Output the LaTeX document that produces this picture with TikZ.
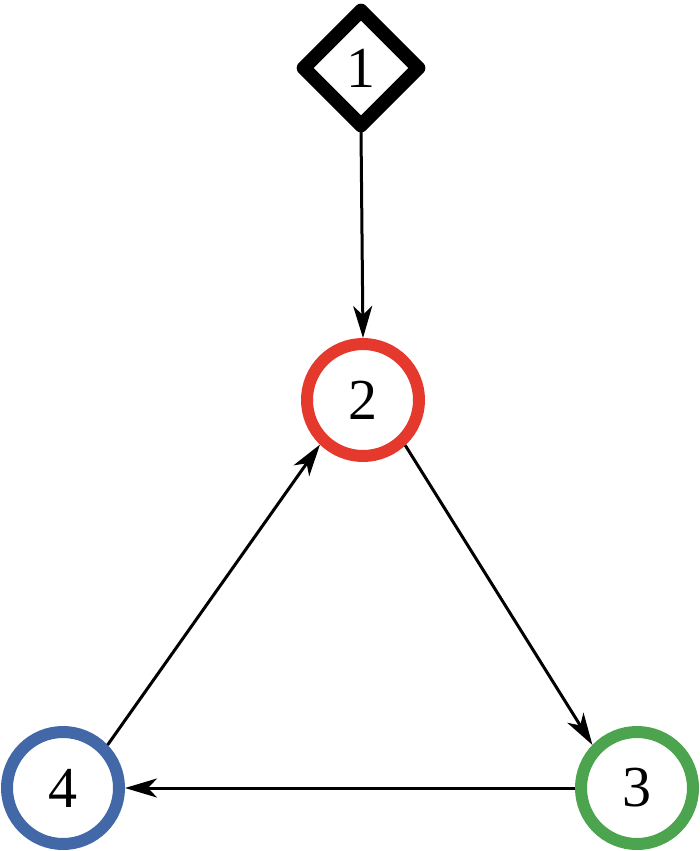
\documentclass[tikz,border=0pt]{standalone}
\usepackage{fontspec}
\setmainfont{Liberation Serif}
\usetikzlibrary{shapes.geometric,arrows.meta}
\definecolor{cred}{RGB}{229,57,46}
\definecolor{cgreen}{RGB}{76,164,78}
\definecolor{cblue}{RGB}{66,104,168}
\begin{document}
\begin{tikzpicture}[x=1pt,y=1pt,
  ring/.style={circle,line width=12pt,minimum size=112pt,inner sep=0pt,outer sep=6pt,font=\fontsize{58}{58}\selectfont},
  startbox/.style={diamond,draw=black,line width=14pt,line join=round,minimum width=118pt,minimum height=118pt,inner sep=0pt,outer sep=4pt,font=\fontsize{58}{58}\selectfont},
  conn/.style={line width=3pt,-{Stealth[length=32pt,width=19pt,inset=9pt]}}
]
\useasboundingbox (0,0) rectangle (700,-851);
\node[startbox] (n1) at (361,-68) {1};
\node[ring,draw=cred] (n2) at (363,-400) {2};
\node[ring,draw=cgreen] (n3) at (637,-788) {3};
\node[ring,draw=cblue] (n4) at (63,-788) {4};
\draw[conn] (n1.south) -- (n2.north);
\draw[conn] (n2.313) -- (n3.136);
\draw[conn] (n3.west) -- (n4.east);
\draw[conn] (n4.44) -- (n2.226);
\end{tikzpicture}
\end{document}
